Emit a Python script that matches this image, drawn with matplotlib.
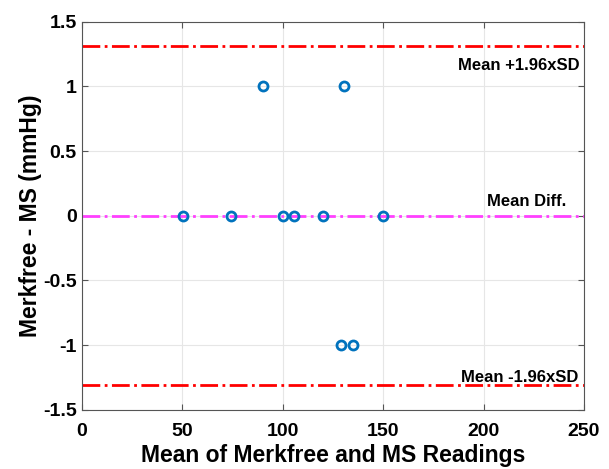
import numpy as np
import matplotlib
matplotlib.use("Agg")
import matplotlib.pyplot as plt

plt.rcParams['font.family'] = ['Liberation Sans', 'DejaVu Sans']

# mean of the two readings and their difference
mean_vals = [90.5, 130.5, 50.3, 74.4, 100.2, 105.5, 120.3, 150.0, 129.2, 135.1]
diff_vals = [1, 1, 0, 0, 0, 0, 0, 0, -1, -1]
mean_diff = 0.0
upper_loa = 1.31
lower_loa = -1.31

fig = plt.figure(figsize=(6.09, 4.69), dpi=100)
ax = fig.add_axes([0.134, 0.126, 0.825, 0.828])

ax.axhline(upper_loa, color='red', ls='-.', lw=2)
ax.axhline(lower_loa, color='red', ls='-.', lw=2)
ax.axhline(mean_diff, color='#ff40ff', ls='-.', lw=2)
ax.plot(mean_vals, diff_vals, 'o', mfc='none', mec='#0072BD', mew=2, ms=6.5)

ax.text(248, 1.16, 'Mean +1.96xSD', ha='right', va='center', fontsize=12, fontweight='bold')
ax.text(241, 0.11, 'Mean Diff.', ha='right', va='center', fontsize=12, fontweight='bold')
ax.text(247, -1.25, 'Mean -1.96xSD', ha='right', va='center', fontsize=12, fontweight='bold')

ax.set_xlim(0, 250)
ax.set_ylim(-1.5, 1.5)
ax.set_xticks([0, 50, 100, 150, 200, 250])
ax.set_yticks([-1.5, -1, -0.5, 0, 0.5, 1, 1.5])
ax.set_yticklabels(['-1.5', '-1', '-0.5', '0', '0.5', '1', '1.5'])
ax.grid(True, color='#e6e6e6', lw=0.8)
ax.set_axisbelow(True)
ax.tick_params(direction='in', top=True, right=True, labelsize=14, color='#555555', length=4)
ax.tick_params(axis='x', pad=9.5)
for lab in ax.get_xticklabels() + ax.get_yticklabels():
    lab.set_fontweight('bold')
for s in ax.spines.values():
    s.set_color('#555555')
    s.set_linewidth(0.8)

ax.set_xlabel('Mean of Merkfree and MS Readings', fontsize=16.5, fontweight='bold', labelpad=3)
ax.set_ylabel('Merkfree - MS (mmHg)', fontsize=16.5, fontweight='bold', labelpad=1)

fig.savefig('out.png', dpi=100)
